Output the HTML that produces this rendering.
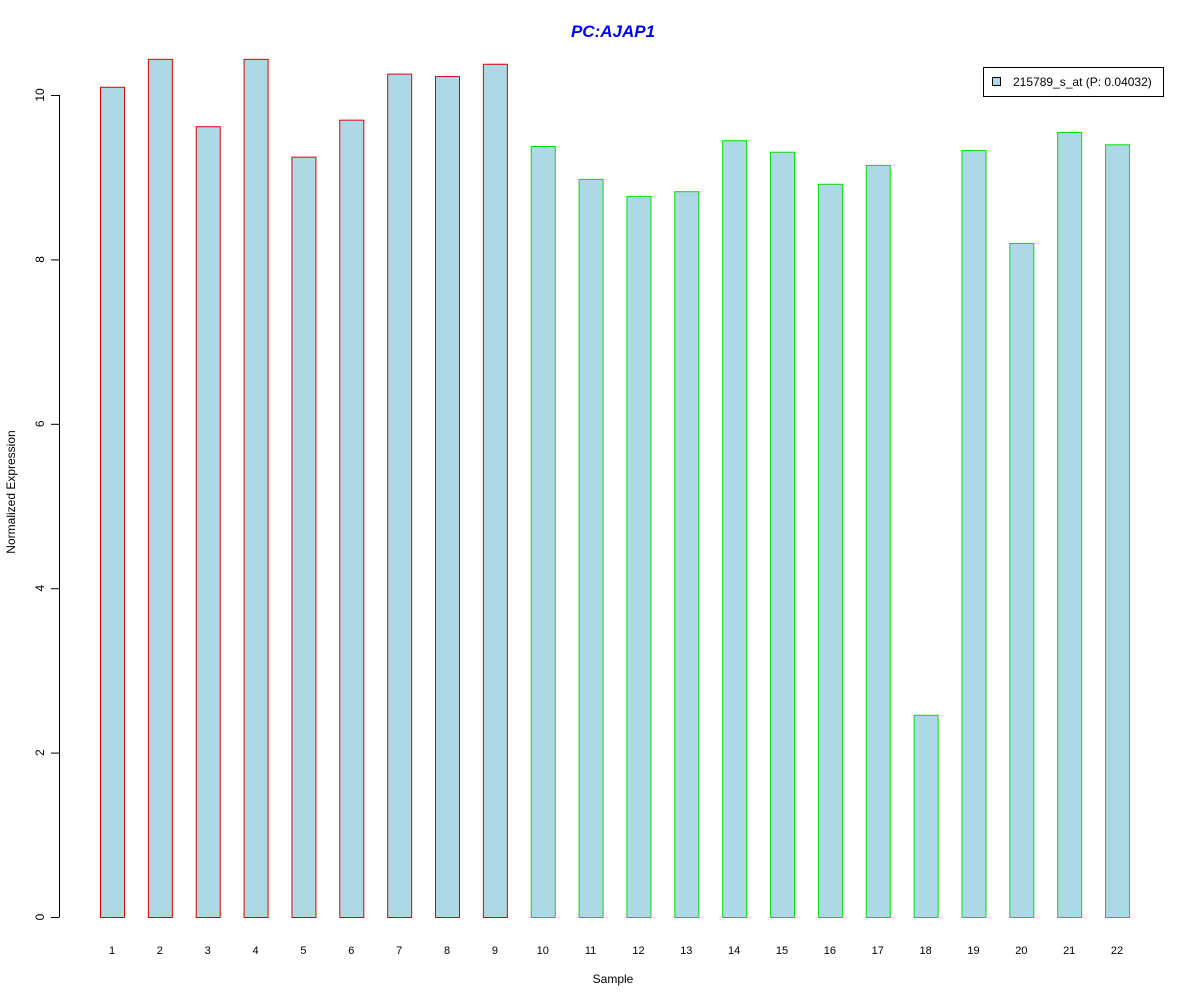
<!DOCTYPE html>
<html><head><meta charset="utf-8"><style>
body{margin:0;background:#fff;}
svg{display:block;font-family:"Liberation Sans",Arial,sans-serif;}
</style></head><body>
<svg id="chart" width="1200" height="1000" viewBox="0 0 1200 1000">
<text x="613" y="37" text-anchor="middle" font-size="17" font-weight="bold" font-style="italic" fill="#0000ff">PC:AJAP1</text>
<text x="613" y="983" text-anchor="middle" font-size="12">Sample</text>
<text transform="translate(15,492) rotate(-90)" text-anchor="middle" font-size="12">Normalized Expression</text>
<g id="yaxis"></g>
<g id="bars"></g>
<g id="xlabels"></g>
<g>
<rect x="983.5" y="67.5" width="180" height="29" fill="#fff" stroke="#000"/>
<rect x="992.5" y="77.5" width="8" height="8" fill="#add8e6" stroke="#000"/>
<text x="1013" y="86" font-size="12">215789_s_at (P: 0.04032)</text>
</g>
</svg>
<script>
const categories=["1","2","3","4","5","6","7","8","9","10","11","12","13","14","15","16","17","18","19","20","21","22"];
const values=[10.10,10.44,9.62,10.44,9.25,9.70,10.26,10.23,10.38,9.38,8.98,8.77,8.83,9.45,9.31,8.92,9.15,2.46,9.33,8.20,9.55,9.40];
const groups=["red","red","red","red","red","red","red","red","red","green","green","green","green","green","green","green","green","green","green","green","green","green"];
const yTicks=[0,2,4,6,8,10];
const NS="http://www.w3.org/2000/svg";
const y=v=>917-v*82.2;
const x=i=>100+i*47.86;
const barW=24;
const borderColor={red:"#e00000",green:"#00e000"};
function mk(t,a,p){const e=document.createElementNS(NS,t);for(const k in a)e.setAttribute(k,a[k]);p.appendChild(e);return e;}
const ya=document.getElementById('yaxis');
const al=mk('line',{x1:59.5,x2:59.5,y1:y(yTicks[0]),y2:y(yTicks[yTicks.length-1]),stroke:'#000'},ya);


yTicks.forEach(t=>{
 const l=mk('line',{x1:51,x2:59.5,y1:y(t)+0.5,y2:y(t)+0.5,stroke:'#000'},ya);
 
 
 const tx=mk('text',{transform:`translate(44,${y(t)}) rotate(-90)`,'text-anchor':'middle','font-size':12},ya);
 tx.textContent=t;
 
 
});
const bg=document.getElementById('bars'),xg=document.getElementById('xlabels');
values.forEach((v,i)=>{
 const r=mk('rect',{x:x(i)+0.5,y:y(v)+0.5,width:barW,height:y(0)-y(v),fill:'#add8e6',stroke:borderColor[groups[i]]},bg);
 
 
 const t=mk('text',{x:x(i)+barW/2,y:954,'text-anchor':'middle','font-size':11},xg);
 t.textContent=categories[i];
 
 
});
</script>
</body></html>
